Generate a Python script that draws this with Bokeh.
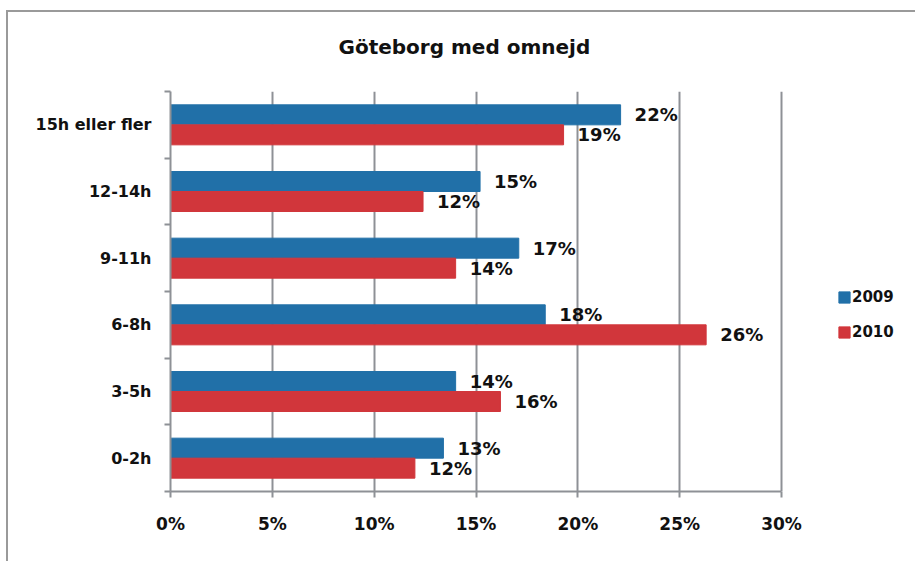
from bokeh.plotting import figure
from bokeh.models import (Range1d, FixedTicker, ColumnDataSource, Legend, LegendItem,
                          PrintfTickFormatter)
from bokeh.embed import file_html
from bokeh.resources import INLINE
from bokeh.core.properties import value

# ---- data ----
categories = ["0-2h", "3-5h", "6-8h", "9-11h", "12-14h", "15h eller fler"]
series_2009 = [13.4, 14.0, 18.4, 17.1, 15.2, 22.1]
series_2010 = [12.0, 16.2, 26.3, 14.0, 12.4, 19.3]
series_names = ["2009", "2010"]
x_ticks = [0, 5, 10, 15, 20, 25, 30]
title_text = "Göteborg med omnejd"

# ---- styling / layout ----
BLUE = "#2170A8"
RED = "#D1363B"
GREY = "#8E9196"
FONT = "DejaVu Sans"
W, H = 915, 561
LEFT, TOP, BOTTOM = 170, 91, 70
AXIS_PX = 611              # pixel width of the 0-30 % span
FRAME_PX = W - LEFT        # frame runs to the right edge (room for legend)

n = len(categories)
centers = [i + 0.5 for i in range(n)]
bounds = [i for i in range(n + 1)]
x_max = x_ticks[-1]

src09 = ColumnDataSource(dict(y=[c + 0.15 for c in centers], x=series_2009,
                              label=[f"{v:.0f}%" for v in series_2009]))
src10 = ColumnDataSource(dict(y=[c - 0.15 for c in centers], x=series_2010,
                              label=[f"{v:.0f}%" for v in series_2010]))

p = figure(width=W, height=H, output_backend="svg", toolbar_location=None,
           x_range=Range1d(0, x_max * FRAME_PX / AXIS_PX), y_range=Range1d(0, n),
           min_border_left=LEFT, min_border_right=0, min_border_top=TOP,
           min_border_bottom=BOTTOM, title=title_text)
p.border_fill_alpha = 0
p.background_fill_color = "white"
p.outline_line_color = None
# outer chart frame: thin grey line along the top and left edge
p.styles = {"box-shadow": ("inset 0px 10px 0px 0px #FFFFFF, inset 6px 0px 0px 0px #FFFFFF, "
                           "inset 0px 12px 0px 0px #9A9A9A, inset 8px 0px 0px 0px #9A9A9A")}

# title
p.title.text_font = FONT
p.title.text_font_style = "bold"
p.title.text_font_size = "20px"
p.title.text_color = "#111111"
p.title.align = "left"
p.title.offset = 168
p.title.vertical_align = "top"
p.title.standoff = 62

r09 = p.hbar(y="y", right="x", left=0, height=0.3, source=src09,
             fill_color=BLUE, line_color=BLUE)
r10 = p.hbar(y="y", right="x", left=0, height=0.3, source=src10,
             fill_color=RED, line_color=RED)

for src in (src09, src10):
    p.text(x="x", y="y", text="label", source=src, x_offset=14,
           text_baseline="middle", text_align="left",
           text_font=value(FONT), text_font_style="bold",
           text_font_size="18px", text_color="#111111")

# x axis
p.xaxis.bounds = (0, x_max)
p.xaxis.ticker = FixedTicker(ticks=x_ticks, minor_ticks=[])
p.xaxis.formatter = PrintfTickFormatter(format="%d%%")
p.xaxis.major_tick_out = 6
p.xaxis.major_tick_in = 0
p.xaxis.axis_line_color = GREY
p.xaxis.axis_line_width = 2
p.xaxis.major_tick_line_color = GREY
p.xaxis.major_tick_line_width = 2
p.xaxis.major_label_standoff = 16
p.xaxis.major_label_text_font = FONT
p.xaxis.major_label_text_font_style = "bold"
p.xaxis.major_label_text_font_size = "17px"
p.xaxis.major_label_text_color = "#111111"

# y axis: labels at centres, tick marks at category boundaries
p.yaxis.ticker = FixedTicker(ticks=centers, minor_ticks=bounds)
p.yaxis.major_label_overrides = {c: lab for c, lab in zip(centers, categories)}
p.yaxis.major_tick_out = 0
p.yaxis.major_tick_in = 0
p.yaxis.minor_tick_out = 6
p.yaxis.minor_tick_in = 0
p.yaxis.minor_tick_line_color = GREY
p.yaxis.minor_tick_line_width = 2
p.yaxis.axis_line_color = GREY
p.yaxis.axis_line_width = 2
p.yaxis.major_label_standoff = 13
p.yaxis.major_label_text_font = FONT
p.yaxis.major_label_text_font_style = "bold"
p.yaxis.major_label_text_font_size = "16px"
p.yaxis.major_label_text_color = "#111111"

# grid
p.ygrid.visible = False
p.xgrid.ticker = FixedTicker(ticks=x_ticks, minor_ticks=[])
p.xgrid.grid_line_color = GREY
p.xgrid.grid_line_width = 2

# legend
legend = Legend(items=[LegendItem(label=series_names[0], renderers=[r09]),
                       LegendItem(label=series_names[1], renderers=[r10])],
                location=(667, 150), orientation="vertical")
legend.border_line_color = None
legend.background_fill_alpha = 0
legend.padding = 0
legend.margin = 0
legend.spacing = 17
legend.glyph_width = 14
legend.glyph_height = 14
legend.label_height = 14
legend.label_standoff = 1
legend.label_text_font = FONT
legend.label_text_font_style = "bold"
legend.label_text_font_size = "15px"
legend.label_text_color = "#111111"
p.add_layout(legend)

open("out.html", "w").write(file_html(p, INLINE))
